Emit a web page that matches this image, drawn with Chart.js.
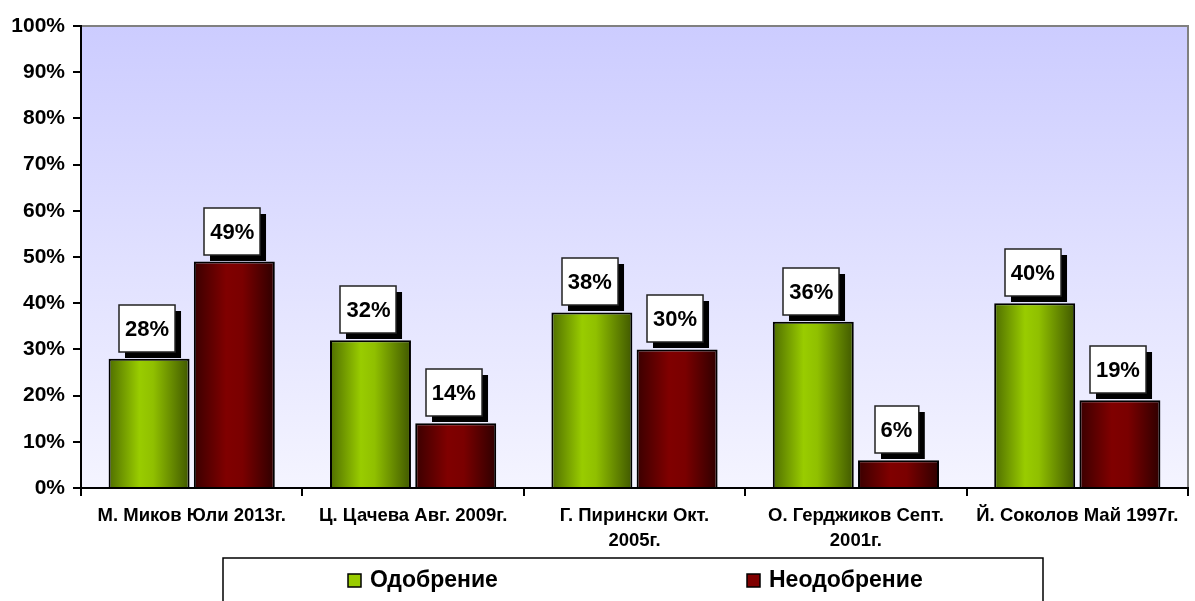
<!DOCTYPE html>
<html>
<head>
<meta charset="utf-8">
<script src="https://cdn.jsdelivr.net/npm/chart.js@4"></script>
<style>
  html, body { margin: 0; padding: 0; background: #ffffff; }
  #wrap { width: 1195px; height: 601px; position: relative; }
</style>
</head>
<body>
<div id="wrap"><canvas id="chart"></canvas></div>
<script>
// categories (multi-line ones split like in the original)
const categories = [
  ["М. Миков Юли 2013г."],
  ["Ц. Цачева Авг. 2009г."],
  ["Г. Пирински Окт.", "2005г."],
  ["О. Герджиков Септ.", "2001г."],
  ["Й. Соколов Май 1997г."]
];
const seriesNames = ["Одобрение", "Неодобрение"];
const approval = [28, 32, 38, 36, 40];
const disapproval = [49, 14, 30, 6, 19];
const yTicks = [0, 10, 20, 30, 40, 50, 60, 70, 80, 90, 100];

const FONT = "'Liberation Sans', Arial, sans-serif";

// horizontal gradient for each bar, built from the element's own position
function barGradient(stops, fallback) {
  return function (ctx) {
    const meta = ctx.chart.getDatasetMeta(ctx.datasetIndex);
    const el = meta.data[ctx.dataIndex];
    if (!el || el.x === undefined || !isFinite(el.x) || !el.width) return fallback;
    const x0 = el.x - el.width / 2, x1 = el.x + el.width / 2;
    const g = ctx.chart.ctx.createLinearGradient(x0, 0, x1, 0);
    stops.forEach(s => g.addColorStop(s[0], s[1]));
    return g;
  };
}

const greenStops = [[0, "#4f6e00"], [0.38, "#99cc00"], [0.55, "#90c000"], [1, "#405800"]];
const redStops = [[0, "#3a0000"], [0.4, "#800000"], [0.6, "#7a0000"], [1, "#2e0000"]];

// plot-area background + grey top/right frame
const plotBackground = {
  id: "plotBackground",
  beforeDraw(chart) {
    const { ctx, chartArea: a } = chart;
    const g = ctx.createLinearGradient(0, a.top, 0, a.bottom);
    g.addColorStop(0, "#ccccff");
    g.addColorStop(1, "#f4f4ff");
    ctx.save();
    ctx.fillStyle = g;
    ctx.fillRect(a.left, a.top, a.right - a.left, a.bottom - a.top);
    ctx.strokeStyle = "#808080";
    ctx.lineWidth = 2;
    ctx.beginPath();
    ctx.moveTo(a.left, a.top);
    ctx.lineTo(a.right, a.top);
    ctx.lineTo(a.right, a.bottom);
    ctx.stroke();
    ctx.restore();
  }
};

// white value boxes with black drop shadow above each bar
const valueBoxes = {
  id: "valueBoxes",
  afterDatasetsDraw(chart) {
    const ctx = chart.ctx;
    ctx.save();
    ctx.font = "bold 22px " + FONT;
    ctx.textAlign = "center";
    ctx.textBaseline = "middle";
    chart.data.datasets.forEach((ds, di) => {
      const meta = chart.getDatasetMeta(di);
      meta.data.forEach((bar, i) => {
        const txt = ds.data[i] + "%";
        const w = ctx.measureText(txt).width + 12;
        const h = 47;
        const cx = bar.x - 2;
        const bottom = bar.y - 7;
        const x = Math.round(cx - w / 2), y = Math.round(bottom - h);
        ctx.fillStyle = "#000000";
        ctx.fillRect(x + 6, y + 6, w, h);
        ctx.fillStyle = "#ffffff";
        ctx.fillRect(x, y, w, h);
        ctx.strokeStyle = "#222222";
        ctx.lineWidth = 1.5;
        ctx.strokeRect(x, y, w, h);
        ctx.fillStyle = "#000000";
        ctx.fillText(txt, cx, y + h / 2 + 1);
      });
    });
    ctx.restore();
  }
};

// boxed legend at the bottom, running off the lower edge like the original
const boxLegend = {
  id: "boxLegend",
  afterDraw(chart) {
    const ctx = chart.ctx;
    ctx.save();
    ctx.strokeStyle = "#000000";
    ctx.lineWidth = 1.5;
    ctx.beginPath();
    ctx.moveTo(223, 610);
    ctx.lineTo(223, 558);
    ctx.lineTo(1043, 558);
    ctx.lineTo(1043, 610);
    ctx.stroke();

    const items = [
      { x: 348, fill: "#99cc00", name: seriesNames[0] },
      { x: 747, fill: "#800000", name: seriesNames[1] }
    ];
    ctx.font = "bold 23px " + FONT;
    ctx.textBaseline = "middle";
    ctx.textAlign = "left";
    items.forEach(it => {
      ctx.fillStyle = it.fill;
      ctx.fillRect(it.x, 574, 13, 13);
      ctx.lineWidth = 1.5;
      ctx.strokeStyle = "#000000";
      ctx.strokeRect(it.x, 574, 13, 13);
      ctx.fillStyle = "#000000";
      ctx.fillText(it.name, it.x + 22, 581);
    });
    ctx.restore();
  }
};

const chart = new Chart(document.getElementById("chart"), {
  type: "bar",
  data: {
    labels: categories,
    datasets: [
      {
        label: seriesNames[0],
        data: approval,
        backgroundColor: barGradient(greenStops, "#99cc00"),
        borderColor: "#000000",
        borderWidth: 2,
        borderSkipped: "bottom",
        categoryPercentage: 0.77,
        barPercentage: 0.95
      },
      {
        label: seriesNames[1],
        data: disapproval,
        backgroundColor: barGradient(redStops, "#800000"),
        borderColor: "#000000",
        borderWidth: 2,
        borderSkipped: "bottom",
        categoryPercentage: 0.77,
        barPercentage: 0.95
      }
    ]
  },
  options: {
    responsive: true,
    maintainAspectRatio: false,
    animation: false,
    layout: { padding: { top: 26, right: 7, bottom: 38, left: 0 } },
    plugins: {
      legend: { display: false },
      tooltip: { enabled: false }
    },
    scales: {
      x: {
        afterFit: scale => { scale.height = 75; },
        border: { color: "#000000", width: 2 },
        grid: { drawOnChartArea: false, color: "#000000", tickLength: 8, lineWidth: 2 },
        ticks: {
          color: "#000000",
          font: { family: FONT, size: 18.5, weight: "bold", lineHeight: 1.33 },
          autoSkip: false,
          maxRotation: 0,
          padding: 8
        }
      },
      y: {
        min: 0,
        max: 100,
        afterFit: scale => { scale.width = 81; },
        afterBuildTicks: scale => { scale.ticks = yTicks.map(v => ({ value: v })); },
        border: { color: "#000000", width: 2 },
        grid: { drawOnChartArea: false, color: "#000000", tickLength: 8, lineWidth: 2 },
        ticks: {
          color: "#000000",
          font: { family: FONT, size: 21, weight: "bold" },
          padding: 8,
          callback: v => v + "%"
        }
      }
    }
  },
  plugins: [plotBackground, valueBoxes, boxLegend]
});

// second pass so the gradients can use the laid-out bar positions
chart.update();
</script>
</body>
</html>
